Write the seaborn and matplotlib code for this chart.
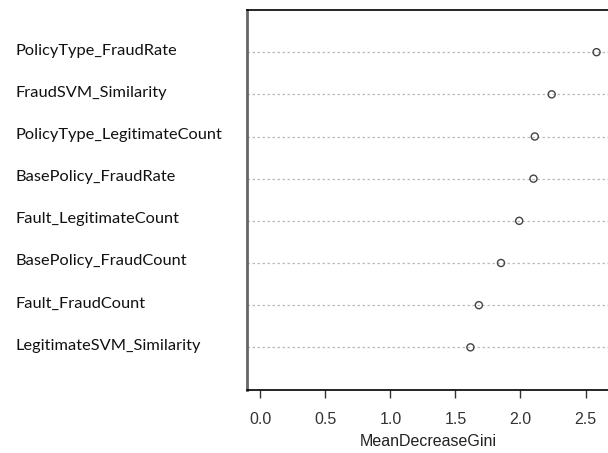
import seaborn as sns
import matplotlib.pyplot as plt
import matplotlib.transforms as mtransforms
import numpy as np

# variable importance (top row first)
features = ["PolicyType_FraudRate", "FraudSVM_Similarity", "PolicyType_LegitimateCount",
            "BasePolicy_FraudRate", "Fault_LegitimateCount", "BasePolicy_FraudCount",
            "Fault_FraudCount", "LegitimateSVM_Similarity"]
gini = [2.585, 2.24, 2.11, 2.10, 1.99, 1.85, 1.68, 1.615]
xticks = [0.0, 0.5, 1.0, 1.5, 2.0, 2.5]

sns.set_style("white")
plt.rcParams['font.family'] = ['Liberation Sans', 'DejaVu Sans']

fig = plt.figure(figsize=(6.08, 4.53), dpi=100)
ax = fig.add_axes([247 / 608, 1 - 389.5 / 453, 363 / 608, 379.5 / 453])

n = len(features)
ypos = np.arange(n, 0, -1)
for y in ypos:
    ax.axhline(y, color='#bbbbbb', lw=0.9, ls=(0, (2, 2)), zorder=1)

sns.scatterplot(x=gini, y=ypos, ax=ax, marker='o', s=26, facecolor='none',
                edgecolor='#444444', linewidth=1.0, zorder=3)

# R dotchart style range: 0..max padded 4%
xmax = max(gini)
ax.set_xlim(-0.04 * xmax, xmax * 1.04)
ax.set_ylim(0, n + 1)

ax.set_yticks(ypos)
ax.set_yticklabels(features, family=['Lato', 'DejaVu Sans'], fontsize=11.8, ha='left',
                   color='#111111')
ax.tick_params(axis='y', length=0, pad=167)
# nudge labels up a touch
shift = mtransforms.ScaledTranslation(0, 3 / 100, fig.dpi_scale_trans)
for lab in ax.get_yticklabels():
    lab.set_transform(lab.get_transform() + shift)

ax.set_xticks(xticks)
ax.set_xticklabels([f"{t:.1f}" for t in xticks], fontsize=11.5, color='#333333')
ax.tick_params(axis='x', direction='out', length=6, width=1, color='#333333',
               pad=10, bottom=True)
ax.set_xlabel("MeanDecreaseGini", fontsize=11.5, color='#222222', labelpad=5)

for side in ['top', 'bottom', 'right']:
    ax.spines[side].set_visible(True)
    ax.spines[side].set_color('black')
    ax.spines[side].set_linewidth(1.2)
ax.spines['left'].set_color('#666666')
ax.spines['left'].set_linewidth(2)

fig.savefig("out.png", dpi=100)
